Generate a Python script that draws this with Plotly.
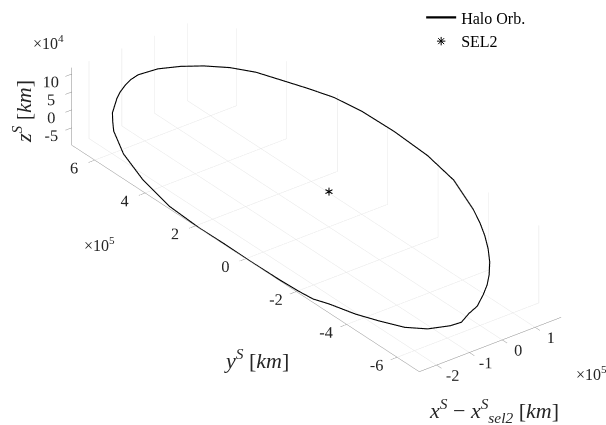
import plotly.graph_objects as go

# Halo orbit around Sun-Earth L2, synodic frame centred on SEL2 [km]
orbit_x_km = [-252000, -251500, -252000, -247800, -230300, -204500, -172700, -155000,
              -143300, -120300, -106700, -90600, -73500, -54700, -8900, 33900, 66200,
              95800, 119800, 137000, 154100, 169200, 177700, 178500, 174800, 160400,
              128200, 111200, 92200, 71000, 47800, 21900, 500, -23400, -52900, -77800,
              -104100, -124600, -159600, -185300, -205600, -221600, -235100, -246000,
              -249000, -251000, -252000]
orbit_y_km = [-20100, 86000, 183800, 310100, 436700, 548300, 628600, 655600, 672000,
              684000, 688500, 690000, 689000, 685000, 667000, 632000, 583000, 518000,
              445400, 363900, 282700, 201100, 99300, -26400, -164100, -286800, -406500,
              -454400, -498700, -539500, -576000, -607400, -627500, -643100, -658200,
              -657200, -661800, -645000, -599900, -542700, -465200, -395400, -309000,
              -257800, -206500, -129900, -20100]
orbit_z_km = [-98000, -97300, -98000, -95900, -87200, -74400, -58600, -49800, -37700,
              -11000, 200, 12200, 23000, 31100, 39700, 47700, 60000, 74700, 86600,
              95200, 103600, 111100, 115300, 117000, 113900, 106700, 90800, 82300,
              72900, 62400, 50900, 38000, 27400, 15500, 800, -11500, -24600, -34800,
              -52100, -64900, -75000, -82900, -89600, -95000, -96500, -97500, -98000]

sel2_x_km = [0]
sel2_y_km = [0]
sel2_z_km = [0]

x_ticks = [-2e5, -1e5, 0, 1e5]
x_tick_text = ["-2", "-1", "0", "1"]
y_ticks = [-6e5, -4e5, -2e5, 0, 2e5, 4e5, 6e5]
y_tick_text = ["-6", "-4", "-2", "0", "2", "4", "6"]
z_ticks = [-5e4, 0, 5e4, 1e5]
z_tick_text = ["-5", "0", "5", "10"]

x_range = [-252500, 179000]
y_range = [-688000, 691000]
z_range = [-98500, 117500]

SERIF = "Liberation Serif"
GRID = "#e3e3e3"
AXLINE = "#8a8a8a"
TXT = "#262626"

fig = go.Figure()

fig.add_trace(go.Scatter3d(
    x=orbit_x_km, y=orbit_y_km, z=orbit_z_km,
    mode="lines", line=dict(color="black", width=2.2),
    name="Halo Orb.", showlegend=True, hoverinfo="skip"))

fig.add_trace(go.Scatter3d(
    x=sel2_x_km, y=sel2_y_km, z=sel2_z_km,
    mode="text", text=["\u2217"],
    textfont=dict(family="DejaVu Sans", size=13, color="black"),
    textposition="middle center",
    name="SEL2", showlegend=False, hoverinfo="skip"))

# legend entry for the SEL2 marker
fig.add_trace(go.Scatter(
    x=[None], y=[None], mode="markers", name="SEL2",
    marker=dict(symbol="asterisk-open", size=7, color="black",
                line=dict(color="black", width=1))))


def axis(rng, vals, text, grid=True):
    return dict(range=rng, tickvals=vals, ticktext=text, autorange=False,
                showbackground=False, showgrid=grid, gridcolor=GRID, gridwidth=1,
                zeroline=False, showline=True, linecolor=AXLINE, linewidth=1,
                ticks="outside", ticklen=8, tickcolor=AXLINE, tickangle=0,
                tickfont=dict(family=SERIF, size=14, color=TXT),
                showspikes=False, title=dict(text=""))


span = [x_range[1] - x_range[0], y_range[1] - y_range[0], z_range[1] - z_range[0]]
k = 2.765
# MATLAB default view (az = -37.5 deg, el = 30 deg), box shifted up-right in the frame
view_dir = (-0.527, -0.687, 0.5)
look_at = (-0.0898, -0.0104, -0.1089)
eye = {ax: 2 * d + c for ax, d, c in zip("xyz", view_dir, look_at)}

fig.update_layout(
    width=606, height=425,
    margin=dict(l=0, r=0, t=0, b=0),
    paper_bgcolor="white", plot_bgcolor="white",
    xaxis=dict(visible=False), yaxis=dict(visible=False),
    scene=dict(
        domain=dict(x=[0.0, 1.0], y=[0.0, 1.0]),
        xaxis=axis(x_range, x_ticks, x_tick_text),
        yaxis=axis(y_range, y_ticks, y_tick_text),
        zaxis=axis(z_range, z_ticks, z_tick_text, grid=False),
        aspectmode="manual",
        aspectratio=dict(x=k * span[0] / span[1], y=k, z=k * span[2] / span[1]),
        camera=dict(projection=dict(type="orthographic"),
                    eye=eye,
                    up=dict(x=0, y=0, z=1),
                    center=dict(x=look_at[0], y=look_at[1], z=look_at[2])),
        bgcolor="white"),
    legend=dict(x=0.695, y=1.028, xanchor="left", yanchor="top",
                bgcolor="rgba(0,0,0,0)", borderwidth=0,
                font=dict(family=SERIF, size=16, color="black"),
                tracegroupgap=0, itemwidth=30),
    showlegend=True,
)

title_font = dict(family=SERIF, size=22, color=TXT)
fig.add_annotation(text="<i>x</i><sup><i>S</i></sup> \u2212 <i>x</i><sup><i>S</i></sup><sub><i>sel2</i></sub> [<i>km</i>]",
                   x=494, y=410, showarrow=False, font=title_font)
fig.add_annotation(text="<i>y</i><sup><i>S</i></sup> [<i>km</i>]",
                   x=256, y=357, showarrow=False, font=title_font)
fig.add_annotation(text="<i>z</i><sup><i>S</i></sup> [<i>km</i>]", textangle=-90,
                   x=22, y=103, showarrow=False, font=title_font)

exp_font = dict(family=SERIF, size=16, color=TXT)
fig.add_annotation(text="\u00d710<sup>4</sup>", x=49, y=31, showarrow=False, font=exp_font)
fig.add_annotation(text="\u00d710<sup>5</sup>", x=99, y=239, showarrow=False, font=exp_font)
fig.add_annotation(text="\u00d710<sup>5</sup>", x=591, y=371, showarrow=False, font=exp_font)

# annotation positions are given in pixels; convert to paper fractions
for a in fig.layout.annotations:
    a.update(xref="paper", yref="paper", x=a.x / 606, y=1 - a.y / 425,
             xanchor="center", yanchor="middle")

fig.write_html("out.html")
